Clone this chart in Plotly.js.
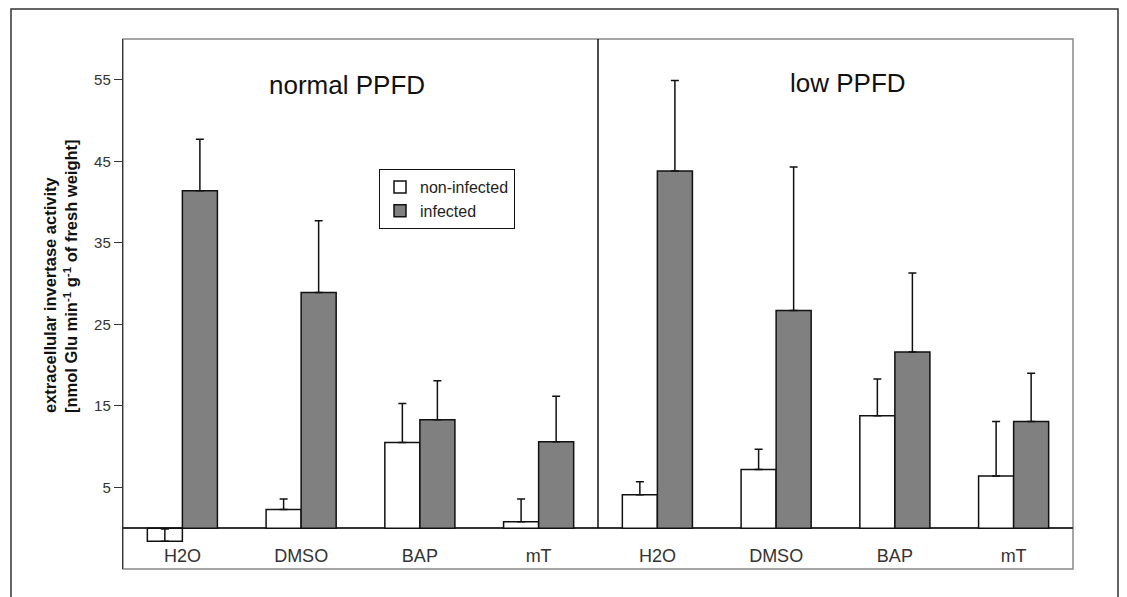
<!DOCTYPE html>
<html>
<head>
<meta charset="utf-8">
<script src="https://cdn.plot.ly/plotly-3.0.1.min.js"></script>
<style>html,body{margin:0;padding:0;background:#fff;}#chart{width:1127px;height:597px;}</style>
</head>
<body>
<div id="chart"></div>
<script>
// ---- data ----
var positions = [0, 1, 2, 3, 4, 5, 6, 7];
var tickLabels = ["H2O", "DMSO", "BAP", "mT", "H2O", "DMSO", "BAP", "mT"];
var groupLabels = ["normal PPFD", "low PPFD"];
var nonInfected = [-1.6, 2.3, 10.5, 0.8, 4.1, 7.2, 13.8, 6.4];
var nonInfectedErr = [1.5, 1.3, 4.8, 2.8, 1.6, 2.5, 4.5, 6.7];
var infected = [41.4, 28.9, 13.3, 10.6, 43.8, 26.7, 21.6, 13.1];
var infectedErr = [6.3, 8.8, 4.8, 5.6, 11.1, 17.6, 9.7, 5.9];
var yTicks = [-5, 5, 15, 25, 35, 45, 55];

var zeros = positions.map(function(){return 0;});
var font = "Liberation Sans, Arial, sans-serif";

var traces = [
  {
    type: "bar", name: "non-infected", x: positions, y: nonInfected,
    marker: {color: "#ffffff", line: {color: "#111", width: 1.5}},
    error_y: {type: "data", symmetric: false, array: nonInfectedErr, arrayminus: zeros,
              color: "#111", thickness: 1.5, width: 4}
  },
  {
    type: "bar", name: "infected", x: positions, y: infected,
    marker: {color: "#808080", line: {color: "#111", width: 1.5}},
    error_y: {type: "data", symmetric: false, array: infectedErr, arrayminus: zeros,
              color: "#111", thickness: 1.5, width: 4}
  }
];

var layout = {
  width: 1127, height: 597,
  margin: {l: 123, r: 54, t: 39, b: 28, pad: 0},
  paper_bgcolor: "#fff", plot_bgcolor: "#fff",
  font: {family: font, size: 15, color: "#333"},
  barmode: "group", bargap: 0.41, bargroupgap: 0,
  showlegend: true,
  legend: {
    x: (447 - 123) / 950, y: 1 - (169 - 39) / 530, xanchor: "center", yanchor: "top",
    bgcolor: "#fff", bordercolor: "#111", borderwidth: 1,
    font: {family: font, size: 16, color: "#222"},
    itemwidth: 30, tracegroupgap: 2
  },
  xaxis: {
    range: [-0.5, 7.5], tickvals: positions, ticktext: tickLabels,
    ticks: "", showline: false, showgrid: false, zeroline: false,
    ticklabelposition: "inside", tickfont: {family: font, size: 18, color: "#333"}
  },
  yaxis: {
    range: [-5, 60], tickvals: yTicks, ticks: "outside", ticklen: 8, tickcolor: "#333",
    showline: true, linecolor: "#333", linewidth: 1.2, showgrid: false,
    zeroline: true, zerolinecolor: "#333", zerolinewidth: 1.5,
    tickfont: {family: font, size: 15, color: "#333"}
  },
  shapes: [
    {type: "rect", xref: "paper", yref: "paper", x0: 0, x1: 1, y0: 0, y1: 1,
     line: {color: "#888", width: 1.5}, layer: "below"},
    {type: "line", xref: "x", yref: "y", x0: 3.5, x1: 3.5, y0: 0, y1: 60,
     line: {color: "#111", width: 1.5}},
    {type: "rect", xref: "paper", yref: "paper",
     x0: (11 - 123) / 950, x1: (1118 - 123) / 950, y0: -0.1, y1: 1 + 30 / 530,
     line: {color: "#333", width: 1.5}}
  ],
  annotations: [
    {xref: "paper", yref: "paper", x: (347 - 123) / 950, y: 1 - (85 - 39) / 530,
     xanchor: "center", yanchor: "middle",
     text: groupLabels[0], showarrow: false, font: {family: font, size: 26, color: "#111"}},
    {xref: "paper", yref: "paper", x: (848 - 123) / 950, y: 1 - (83 - 39) / 530,
     xanchor: "center", yanchor: "middle",
     text: groupLabels[1], showarrow: false, font: {family: font, size: 26, color: "#111"}},
    {xref: "paper", yref: "paper", x: (60 - 123) / 950, y: 1 - (276 - 39) / 530,
     xanchor: "center", yanchor: "middle", textangle: -90, align: "left",
     text: "<b>extracellular invertase activity<br>[nmol Glu min<sup>-1</sup> g<sup>-1</sup> of fresh weight]</b>",
     showarrow: false, font: {family: font, size: 16.5, color: "#111"}}
  ]
};

Plotly.newPlot("chart", traces, layout, {displayModeBar: false, staticPlot: true});
</script>
</body>
</html>
